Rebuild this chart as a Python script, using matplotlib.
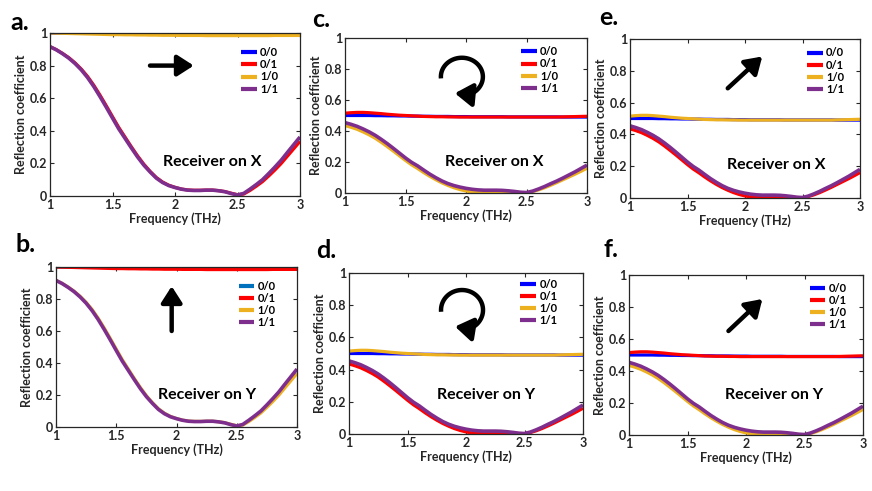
import numpy as np
import matplotlib
matplotlib.use("Agg")
from matplotlib import pyplot as plt

plt.rcParams['font.family'] = ['Lato', 'DejaVu Sans']
plt.rcParams['font.weight'] = 'bold'

freq = [1.00, 1.05, 1.10, 1.15, 1.20, 1.25, 1.30, 1.35, 1.40, 1.45,
        1.50, 1.55, 1.60, 1.65, 1.70, 1.75, 1.80, 1.85, 1.90, 1.95,
        2.00, 2.05, 2.10, 2.15, 2.20, 2.25, 2.30, 2.35, 2.40, 2.45,
        2.50, 2.55, 2.60, 2.65, 2.70, 2.75, 2.80, 2.85, 2.90, 2.95, 3.00]
labels = ['0/0', '0/1', '1/0', '1/1']

# full-reflection curves (panels a, b)
top_full = [1.0, 1.0, 1.0, 1.0, 1.0, 0.999, 0.999, 0.999, 0.999, 0.999,
            0.999, 0.999, 0.998, 0.998, 0.998, 0.998, 0.998, 0.998, 0.998, 0.998,
            0.998, 0.998, 0.998, 0.998, 0.998, 0.998, 0.998, 0.998, 0.998, 0.998,
            0.998, 0.998, 0.998, 0.998, 0.998, 0.998, 0.998, 0.998, 0.998, 0.998, 0.998]
top_full_dev = [1.0, 0.999, 0.998, 0.997, 0.996, 0.995, 0.994, 0.993, 0.992, 0.991,
                0.99, 0.99, 0.989, 0.989, 0.988, 0.988, 0.987, 0.987, 0.986, 0.986,
                0.986, 0.985, 0.985, 0.985, 0.985, 0.984, 0.984, 0.984, 0.984, 0.984,
                0.984, 0.984, 0.984, 0.984, 0.984, 0.984, 0.985, 0.985, 0.985, 0.985, 0.985]
dip_full = [0.916, 0.897, 0.873, 0.846, 0.813, 0.774, 0.727, 0.672, 0.61, 0.545,
            0.478, 0.412, 0.354, 0.296, 0.24, 0.19, 0.148, 0.11, 0.083, 0.064,
            0.052, 0.042, 0.036, 0.034, 0.034, 0.036, 0.036, 0.032, 0.026, 0.015,
            0.006, 0.016, 0.042, 0.07, 0.1, 0.138, 0.178, 0.22, 0.268, 0.315, 0.362]
dip_full_alt = [0.916, 0.898, 0.875, 0.849, 0.817, 0.779, 0.734, 0.68, 0.619, 0.554,
                0.487, 0.421, 0.362, 0.303, 0.247, 0.196, 0.152, 0.114, 0.086, 0.066,
                0.053, 0.043, 0.037, 0.035, 0.035, 0.036, 0.036, 0.033, 0.027, 0.017,
                0.008, 0.012, 0.034, 0.06, 0.088, 0.123, 0.16, 0.2, 0.245, 0.29, 0.335]

# half-reflection curves (panels c-f)
top_half = [0.5, 0.5, 0.5, 0.5, 0.5, 0.499, 0.499, 0.498, 0.498, 0.497,
            0.497, 0.496, 0.496, 0.495, 0.495, 0.494, 0.494, 0.494, 0.493, 0.493,
            0.493, 0.492, 0.492, 0.492, 0.492, 0.492, 0.492, 0.491, 0.491, 0.491,
            0.491, 0.491, 0.491, 0.491, 0.491, 0.491, 0.49, 0.49, 0.49, 0.49, 0.49]
top_half_wob = [0.515, 0.518, 0.52, 0.52, 0.518, 0.515, 0.512, 0.508, 0.505, 0.502,
                0.5, 0.498, 0.496, 0.494, 0.493, 0.492, 0.492, 0.491, 0.491, 0.49,
                0.49, 0.49, 0.49, 0.49, 0.49, 0.49, 0.49, 0.49, 0.49, 0.49,
                0.49, 0.49, 0.49, 0.49, 0.49, 0.49, 0.491, 0.492, 0.493, 0.494, 0.495]
dip_half = [0.454, 0.443, 0.43, 0.413, 0.394, 0.372, 0.346, 0.318, 0.288, 0.257,
            0.226, 0.198, 0.175, 0.148, 0.122, 0.099, 0.078, 0.061, 0.048, 0.038,
            0.03, 0.024, 0.02, 0.018, 0.018, 0.018, 0.017, 0.014, 0.01, 0.005,
            0.003, 0.012, 0.026, 0.042, 0.06, 0.077, 0.096, 0.116, 0.136, 0.158, 0.18]
dip_half_low = [0.435, 0.424, 0.411, 0.394, 0.375, 0.353, 0.327, 0.299, 0.27, 0.24,
                0.21, 0.182, 0.158, 0.132, 0.108, 0.086, 0.066, 0.049, 0.034, 0.022,
                0.013, 0.006, 0.003, 0.003, 0.005, 0.008, 0.009, 0.008, 0.006, 0.003,
                0.002, 0.009, 0.02, 0.034, 0.05, 0.067, 0.085, 0.103, 0.121, 0.14, 0.16]

BLUE = '#0000FF'
RED = '#FF0000'
YELLOW = '#EDB120'
PURPLE = '#7E2F8E'
DARK = '#262626'

W, H = 872, 491

panels = {
    # letter: (axes px box, series for 0/0 0/1 1/0 1/1, receiver, blue colour)
    'a': ((50, 33, 300, 196), [top_full, dip_full_alt, top_full_dev, dip_full], 'X', BLUE),
    'b': ((56, 267, 297, 427), [top_full, top_full_dev, dip_full_alt, dip_full], 'Y', '#0072BD'),
    'c': ((345, 38, 587, 193), [top_half, top_half_wob, dip_half_low, dip_half], 'X', BLUE),
    'd': ((349, 273, 583, 434), [top_half, dip_half_low, top_half_wob, dip_half], 'Y', BLUE),
    'e': ((630, 39, 860, 198), [top_half, dip_half_low, top_half_wob, dip_half], 'X', BLUE),
    'f': ((629, 275, 863, 435), [top_half, top_half_wob, dip_half_low, dip_half], 'Y', BLUE),
}
letter_pos = {'a': (10, 30), 'b': (15, 252), 'c': (312, 27), 'd': (316, 258),
              'e': (599, 25), 'f': (604, 257)}
text_pos = {'a': (2.3, 0.21), 'b': (2.25, 0.2), 'c': (2.23, 0.2),
            'd': (2.17, 0.24), 'e': (2.27, 0.21), 'f': (2.24, 0.25)}
legend_anchor = {'a': (0.93, 0.94), 'b': (0.93, 0.94), 'c': (0.9, 0.975),
                 'd': (0.91, 0.99), 'e': (0.95, 0.975), 'f': (0.95, 0.98)}

fig = plt.figure(figsize=(W / 100, H / 100), dpi=100)

axes = {}
for key, (box, series, rx, c00) in panels.items():
    l, t, r, b = box
    ax = fig.add_axes([l / W, 1 - b / H, (r - l) / W, (b - t) / H])
    axes[key] = ax
    cols = [c00, RED, YELLOW, PURPLE]
    for lab, ys, col in zip(labels, series, cols):
        ax.plot(freq, ys, color=col, lw=2.3 if col != PURPLE else 2.6,
                label=lab, solid_capstyle='butt', solid_joinstyle='round')
    ax.set_xlim(1, 3)
    ax.set_ylim(0, 1)
    ax.set_xticks([1, 1.5, 2, 2.5, 3])
    ax.set_xticklabels(['1', '1.5', '2', '2.5', '3'])
    ax.set_yticks([0, 0.2, 0.4, 0.6, 0.8, 1])
    ax.set_yticklabels(['0', '0.2', '0.4', '0.6', '0.8', '1'])
    ax.tick_params(direction='in', top=True, right=True, length=3, width=0.8,
                   labelsize=9, colors=DARK, pad=2)
    for s in ax.spines.values():
        s.set_color(DARK)
        s.set_linewidth(0.9)
    ax.set_xlabel('Frequency (THz)', fontsize=9, fontweight='bold', color=DARK, labelpad=1)
    ax.set_ylabel('Reflection coefficient', fontsize=9, fontweight='bold', color=DARK, labelpad=2)
    ax.text(*text_pos[key], 'Receiver on ' + rx, fontsize=11.5, fontweight='bold',
            ha='center', va='center', color='black')
    leg = ax.legend(loc='upper right', bbox_to_anchor=legend_anchor[key], frameon=False,
                    fontsize=8, handlelength=1.4, handletextpad=0.3,
                    labelspacing=0.1, borderaxespad=0)
    for line in leg.get_lines():
        line.set_linewidth(3)
    fig.text(letter_pos[key][0] / W, 1 - letter_pos[key][1] / H, key + '.',
             fontsize=18, fontweight='bold', va='baseline', ha='left')

arrow_kw = dict(arrowstyle='-|>,head_length=0.7,head_width=0.45', lw=3.2,
                color='black', mutation_scale=14, shrinkA=0, shrinkB=0)
axes['a'].annotate('', xy=(2.15, 0.8), xytext=(1.8, 0.8), arrowprops=arrow_kw)
axes['b'].annotate('', xy=(1.96, 0.88), xytext=(1.96, 0.6), arrowprops=arrow_kw)
axes['e'].annotate('', xy=(2.15, 0.89), xytext=(1.85, 0.69), arrowprops=arrow_kw)
axes['f'].annotate('', xy=(2.14, 0.85), xytext=(1.85, 0.65), arrowprops=arrow_kw)


def curl(ax, cx, cy, rx_px, ry_px):
    # clockwise circular arrow: arc line plus a short arrow head at the bottom
    bb = ax.get_position()
    wpx, hpx = bb.width * W, bb.height * H
    ang = np.radians(np.linspace(185, -70, 80))
    xs = cx + rx_px * np.cos(ang) / wpx
    ys = cy + ry_px * np.sin(ang) / hpx
    ax.plot(xs, ys, color='black', lw=3.2, transform=ax.transAxes,
            solid_capstyle='butt')
    tip = (cx - 7 / wpx, cy - 16.5 / hpx)
    ax.annotate('', xy=tip, xytext=(xs[-1], ys[-1]), xycoords='axes fraction',
                textcoords='axes fraction',
                arrowprops=dict(arrowstyle='-|>,head_length=0.75,head_width=0.5',
                                lw=3.2, color='black', mutation_scale=14,
                                shrinkA=0, shrinkB=0))


curl(axes['c'], 0.483, 0.75, 21, 19)
curl(axes['d'], 0.483, 0.77, 21, 20)

fig.savefig('out.png', dpi=100)
